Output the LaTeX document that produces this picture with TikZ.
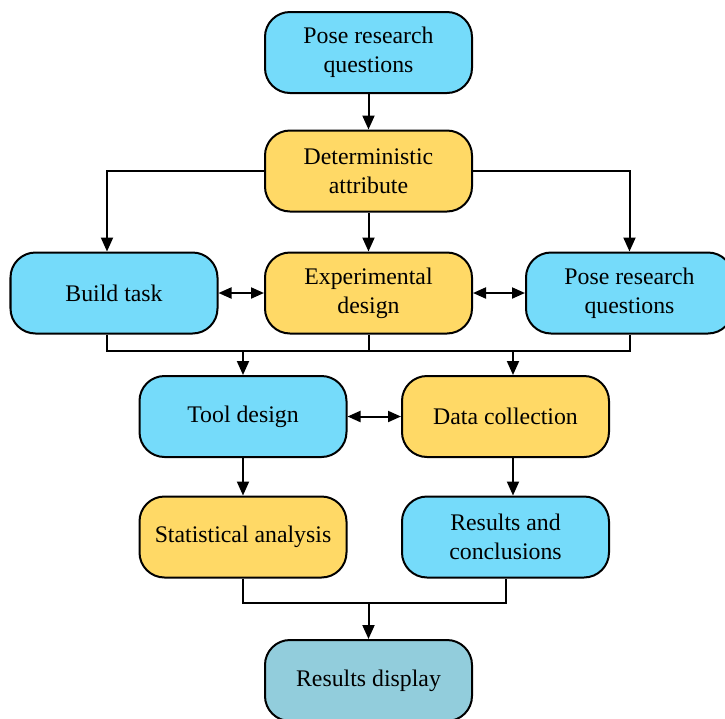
\documentclass[tikz,border=0pt]{standalone}
\usepackage{fontspec}
\setmainfont{Liberation Serif}
\usepackage{xcolor}
\usetikzlibrary{arrows.meta,positioning,calc}
\definecolor{SkyFill}{HTML}{75DBFA}
\definecolor{GoldFill}{HTML}{FFD966}
\definecolor{AquaFill}{HTML}{92CDDC}
\definecolor{Ink}{HTML}{000000}
\tikzset{
  box/.style={draw=Ink,line width=1pt,rounded corners=12.5pt,minimum width=103.5pt,minimum height=40.5pt,align=center,font=\fontsize{11.9}{14.5}\selectfont,text=Ink,inner sep=2pt},
  skybox/.style={box,fill=SkyFill},
  goldbox/.style={box,fill=GoldFill},
  aquabox/.style={box,fill=AquaFill},
  arr/.style={-{Triangle[length=7pt,width=6pt]},draw=Ink,line width=1pt},
  biarr/.style={{Triangle[length=6.5pt,width=5.5pt]}-{Triangle[length=6.5pt,width=5.5pt]},draw=Ink,line width=1pt},
  bus/.style={draw=Ink,line width=1pt}
}
\begin{document}
\begin{tikzpicture}[x=0.5pt,y=-0.5pt]
  \useasboundingbox (0,0) rectangle (725,719);
  \node[skybox] (pose) at (368.5,52.5) {Pose research\\questions};
  \node[goldbox] (attr) at (368.5,171) {Deterministic\\attribute};
  \node[skybox] (task) at (114,293) {Build task};
  \node[goldbox] (expd) at (368.5,293) {Experimental\\design};
  \node[skybox] (poseb) at (629.5,293) {Pose research\\questions};
  \node[skybox] (tool) at (243,416.5) {Tool design};
  \node[goldbox] (data) at (505.5,416.5) {Data collection};
  \node[goldbox] (stat) at (243,537) {Statistical analysis};
  \node[skybox] (concl) at (505.5,537) {Results and\\conclusions};
  \node[aquabox] (show) at (368.5,680.5) {Results display};
  \coordinate (taskin) at ([xshift=-3.5pt]task.north);
  \coordinate (taskout) at ([xshift=-3.5pt]task.south);
  \coordinate (dataup) at ([xshift=3.75pt]data.north);
  \coordinate (datadn) at ([xshift=3.75pt]data.south);
  \coordinate (conclin) at ([xshift=3.75pt]concl.north);
  \coordinate (busa) at (0,350.7);
  \coordinate (busb) at (0,603);
  \draw[arr] (pose) -- (attr);
  \draw[arr] (attr) -- (expd);
  \draw[arr] (attr.west) -| (taskin);
  \draw[arr] (attr.east) -| (poseb.north);
  \draw[biarr] (task) -- (expd);
  \draw[biarr] (expd) -- (poseb);
  \draw[bus] (taskout) |- (busa -| poseb.south) -- (poseb.south);
  \draw[bus] (expd.south) -- (busa -| expd.south);
  \draw[arr] (busa -| tool.north) -- (tool.north);
  \draw[arr] (busa -| dataup) -- (dataup);
  \draw[biarr] (tool) -- (data);
  \draw[arr] (tool) -- (stat);
  \draw[arr] (datadn) -- (conclin);
  \draw[bus] (stat.south) |- (busb -| concl.south) -- (concl.south);
  \draw[arr] (busb -| show.north) -- (show.north);
\end{tikzpicture}
\end{document}
